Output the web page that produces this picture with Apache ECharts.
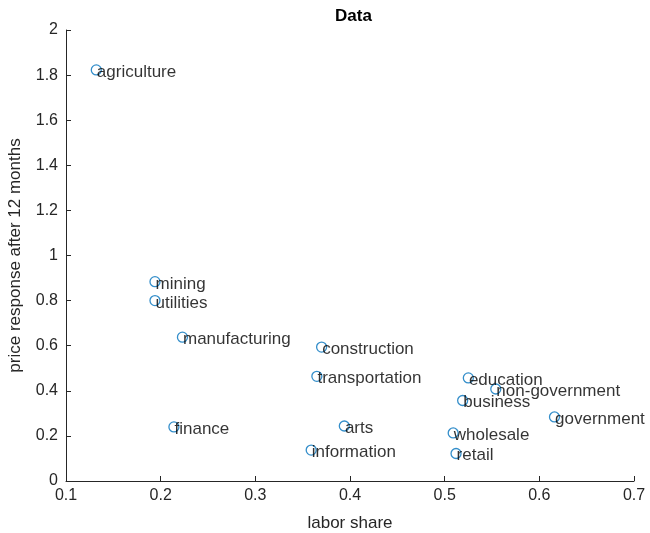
<!DOCTYPE html>
<html>
<head>
<meta charset="utf-8">
<script src="https://cdn.jsdelivr.net/npm/echarts@6/dist/echarts.min.js"></script>
<style>html,body{margin:0;padding:0;background:#fff}#c{width:650px;height:533px}</style>
</head>
<body>
<div id="c"></div>
<script>
const sectors = ["agriculture","mining","utilities","manufacturing","finance","construction","transportation","arts","information","education","non-government","business","government","wholesale","retail"];
const laborShare = [0.132,0.194,0.194,0.223,0.214,0.370,0.365,0.394,0.359,0.525,0.554,0.519,0.616,0.509,0.512];
const priceResponse = [1.823,0.884,0.800,0.638,0.240,0.594,0.464,0.244,0.137,0.457,0.408,0.357,0.284,0.213,0.122];
const xTicks = [0.1,0.2,0.3,0.4,0.5,0.6,0.7];
const yTicks = [0,0.2,0.4,0.6,0.8,1,1.2,1.4,1.6,1.8,2];

const font = "'Liberation Sans', Arial, sans-serif";
const chart = echarts.init(document.getElementById('c'));
const fmt = v => String(+(+v).toFixed(1));
chart.setOption({
  animation: false,
  backgroundColor: '#fff',
  title: {text: 'Data', left: 330, top: 3,
    textStyle: {fontFamily: font, fontSize: 17, fontWeight: 'bold', color: '#000'}},
  grid: {left: 66, right: 16, top: 30, bottom: 52, containLabel: false, outerBoundsMode: 'none'},
  xAxis: {
    type: 'value', min: xTicks[0], max: xTicks[xTicks.length-1], interval: 0.1,
    name: 'labor share', nameLocation: 'middle', nameGap: 34,
    nameTextStyle: {fontFamily: font, fontSize: 17, color: '#262626'},
    axisLine: {show: true, onZero: false, lineStyle: {color: '#262626', width: 1}},
    axisTick: {show: true, inside: true, length: 5, lineStyle: {color: '#262626'}},
    axisLabel: {formatter: fmt, fontFamily: font, fontSize: 16, color: '#262626', margin: 7},
    splitLine: {show: false}
  },
  yAxis: {
    type: 'value', min: yTicks[0], max: yTicks[yTicks.length-1], interval: 0.2,
    name: 'price response after 12 months', nameLocation: 'middle', nameGap: 42,
    nameTextStyle: {fontFamily: font, fontSize: 17, color: '#262626'},
    axisLine: {show: true, onZero: false, lineStyle: {color: '#262626', width: 1}},
    axisTick: {show: true, inside: true, length: 5, lineStyle: {color: '#262626'}},
    axisLabel: {formatter: fmt, fontFamily: font, fontSize: 16, color: '#262626', margin: 8},
    splitLine: {show: false}
  },
  series: [{
    type: 'scatter',
    data: sectors.map((s,i) => ({value: [laborShare[i], priceResponse[i]], name: s})),
    symbol: 'circle', symbolSize: 10,
    itemStyle: {color: 'rgba(0,0,0,0)', borderColor: '#0072BD', borderWidth: 1.3},
    label: {show: true, formatter: p => p.name, position: ['55%','70%'], align: 'left', verticalAlign: 'middle',
      fontFamily: font, fontSize: 17, color: '#000', textBorderWidth: 0}
  }]
});
</script>
</body>
</html>
